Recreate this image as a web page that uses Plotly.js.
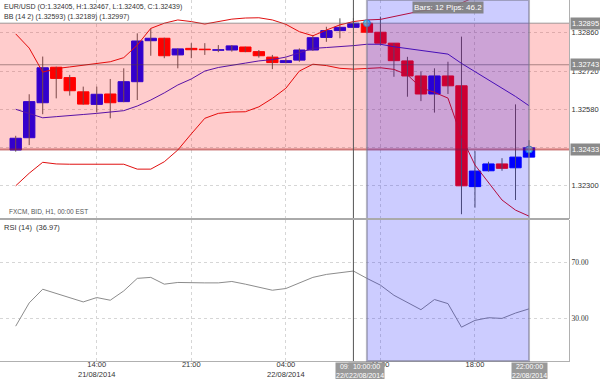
<!DOCTYPE html>
<html><head><meta charset="utf-8">
<script src="https://cdn.plot.ly/plotly-3.0.1.min.js"></script>
<style>html,body{margin:0;padding:0;background:#fff;}#chart{width:600px;height:379px;}</style>
</head><body><div id="chart"></div>
<script>
const times = ['2014-08-21 08:00','2014-08-21 09:00','2014-08-21 10:00','2014-08-21 11:00','2014-08-21 12:00','2014-08-21 13:00','2014-08-21 14:00','2014-08-21 15:00','2014-08-21 16:00','2014-08-21 17:00','2014-08-21 18:00','2014-08-21 19:00','2014-08-21 20:00','2014-08-21 21:00','2014-08-21 22:00','2014-08-21 23:00','2014-08-22 00:00','2014-08-22 01:00','2014-08-22 02:00','2014-08-22 03:00','2014-08-22 04:00','2014-08-22 05:00','2014-08-22 06:00','2014-08-22 07:00','2014-08-22 08:00','2014-08-22 09:00','2014-08-22 10:00','2014-08-22 11:00','2014-08-22 12:00','2014-08-22 13:00','2014-08-22 14:00','2014-08-22 15:00','2014-08-22 16:00','2014-08-22 17:00','2014-08-22 18:00','2014-08-22 19:00','2014-08-22 20:00','2014-08-22 21:00','2014-08-22 22:00'];
const openP = [1.32431,1.32476,1.32604,1.32734,1.32696,1.32644,1.32598,1.32636,1.32608,1.32681,1.32831,1.32840,1.32779,1.32803,1.32800,1.32796,1.32797,1.32808,1.32791,1.32771,1.32751,1.32760,1.32797,1.32843,1.32868,1.32880,1.32895,1.32862,1.32822,1.32757,1.32702,1.32636,1.32702,1.32666,1.32297,1.32355,1.32380,1.32366,1.32405];
const highP = [1.32483,1.32635,1.32773,1.32736,1.32706,1.32663,1.32663,1.32691,1.32730,1.32858,1.32876,1.32842,1.32803,1.32822,1.32822,1.32815,1.32815,1.32809,1.32797,1.32779,1.32767,1.32803,1.32852,1.32882,1.32913,1.32914,1.32905,1.32919,1.32822,1.32772,1.32718,1.32730,1.32754,1.32846,1.32427,1.32388,1.32401,1.32598,1.32467];
const lowP = [1.32425,1.32449,1.32562,1.32620,1.32630,1.32597,1.32568,1.32547,1.32606,1.32614,1.32776,1.32767,1.32730,1.32767,1.32779,1.32789,1.32791,1.32789,1.32769,1.32727,1.32748,1.32754,1.32794,1.32827,1.32840,1.32879,1.32858,1.32813,1.32699,1.32626,1.32610,1.32568,1.32636,1.32196,1.32220,1.32352,1.32355,1.32248,1.32405];
const closeP = [1.32474,1.32608,1.32732,1.32693,1.32648,1.32599,1.32635,1.32604,1.32681,1.32830,1.32840,1.32776,1.32801,1.32798,1.32798,1.32798,1.32812,1.32791,1.32776,1.32751,1.32758,1.32797,1.32842,1.32868,1.32880,1.32895,1.32862,1.32822,1.32758,1.32702,1.32636,1.32702,1.32666,1.32300,1.32354,1.32380,1.32364,1.32405,1.32439];
const bbUpper = [1.32856,1.32804,1.32716,1.32729,1.32735,1.32742,1.32748,1.32754,1.32769,1.32815,1.32876,1.32895,1.32907,1.32901,1.32892,1.32901,1.32910,1.32914,1.32915,1.32907,1.32891,1.32864,1.32849,1.32870,1.32889,1.32901,1.32907,1.32909,1.32919,1.32929,1.32940,1.32945,1.32947,1.32969,1.32991,1.32995,1.32997,1.32997,1.32997];
const bbMid = [1.32580,1.32565,1.32549,1.32553,1.32556,1.32561,1.32565,1.32570,1.32575,1.32592,1.32614,1.32640,1.32669,1.32691,1.32720,1.32733,1.32742,1.32749,1.32757,1.32762,1.32771,1.32786,1.32803,1.32806,1.32809,1.32813,1.32818,1.32818,1.32809,1.32802,1.32797,1.32790,1.32782,1.32748,1.32718,1.32687,1.32657,1.32627,1.32593];
const bbLower = [1.32300,1.32346,1.32386,1.32380,1.32379,1.32379,1.32379,1.32379,1.32379,1.32361,1.32361,1.32388,1.32431,1.32490,1.32547,1.32565,1.32570,1.32571,1.32589,1.32620,1.32657,1.32720,1.32745,1.32740,1.32730,1.32727,1.32730,1.32732,1.32726,1.32706,1.32659,1.32642,1.32621,1.32479,1.32376,1.32314,1.32248,1.32211,1.32189];
const rsi = [24.7,41.2,50.9,47.8,45.0,41.9,45.0,43.1,49.7,58.6,59.3,54.5,55.7,55.4,55.4,55.4,56.4,54.5,52.6,50.2,51.4,55.4,59.3,61.4,62.4,63.8,58.6,53.8,46.6,41.4,36.4,43.6,40.7,24.0,28.8,30.7,30.2,34.0,36.97];

const priceTicks = [1.32300,1.32440,1.32580,1.32720,1.32860];
const rsiTicks = [30,70];
const xTickVals = ['2014-08-21 14:00','2014-08-21 21:00','2014-08-22 04:00','2014-08-22 11:00','2014-08-22 18:00'];
const xTickText = ['14:00<br>21/08/2014','21:00','04:00<br>22/08/2014','11:00','18:00'];
const measureStart = '2014-08-22 10:00', measureEnd = '2014-08-22 22:00';
const measureLevels = [1.32895, 1.32433];
const midLevel = 1.32743;
const crossTime = '2014-08-22 09:00';
const bottomTags = [['2014-08-22 09:00','09:00:00'],['2014-08-22 10:00','10:00:00'],['2014-08-22 22:00','22:00:00']];

const n = times.length;
const wx = [], wy = [];
for (let i = 0; i < n; i++) { wx.push(times[i], times[i], null); wy.push(highP[i], lowP[i], null); }
const bodyBase = openP.map((o,i)=>Math.min(o, closeP[i]));
const bodyH = openP.map((o,i)=>Math.abs(closeP[i]-o));
const bodyCol = openP.map((o,i)=> closeP[i] >= o ? '#0000ff' : '#ff0000');

const traces = [
  {type:'scatter', mode:'lines', x:wx, y:wy, xaxis:'x', yaxis:'y', line:{color:'#5a5a5a', width:1}, hoverinfo:'skip', connectgaps:false},
  {type:'bar', x:times, y:bodyH, base:bodyBase, xaxis:'x', yaxis:'y', width:0.84*3600000,
   marker:{color:bodyCol, line:{color:bodyCol, width:1}}, hoverinfo:'skip'},
  {type:'scatter', mode:'lines', x:times, y:bbUpper, line:{color:'#e01010', width:1}, xaxis:'x', yaxis:'y', hoverinfo:'skip'},
  {type:'scatter', mode:'lines', x:times, y:bbLower, line:{color:'#e01010', width:1}, xaxis:'x', yaxis:'y', hoverinfo:'skip'},
  {type:'scatter', mode:'lines', x:times, y:bbMid, line:{color:'#3018d0', width:1}, xaxis:'x', yaxis:'y', hoverinfo:'skip'},
  {type:'scatter', mode:'markers', x:[measureStart, measureEnd], y:measureLevels, xaxis:'x', yaxis:'y',
   marker:{size:7, color:'#60d0ff', line:{color:'#2a90d0', width:1}}, hoverinfo:'skip'},
  {type:'scatter', mode:'lines', x:times, y:rsi, xaxis:'x', yaxis:'y2', line:{color:'#8c8c8c', width:1}, hoverinfo:'skip'}
];

const mainBottom = 1 - 219/361;
const rsiTop = 141/361;
const shapes = [
  {type:'rect', layer:'above', xref:'paper', x0:0, x1:1, yref:'y', y0:measureLevels[1], y1:measureLevels[0], fillcolor:'rgba(255,0,0,0.2)', line:{width:0}},
  {type:'line', layer:'above', xref:'paper', x0:0, x1:1, yref:'y', y0:measureLevels[0], y1:measureLevels[0], line:{color:'rgba(110,110,110,0.45)', width:1.5}},
  {type:'line', layer:'above', xref:'paper', x0:0, x1:1, yref:'y', y0:measureLevels[1], y1:measureLevels[1], line:{color:'rgba(170,30,30,0.55)', width:2}},
  {type:'line', layer:'above', xref:'paper', x0:0, x1:1, yref:'y', y0:midLevel, y1:midLevel, line:{color:'rgba(90,60,60,0.5)', width:1}},
  {type:'rect', layer:'above', xref:'x', x0:measureStart, x1:measureEnd, yref:'paper', y0:0, y1:1, fillcolor:'rgba(0,0,255,0.2)', line:{color:'rgba(120,120,140,0.55)', width:2}},
  {type:'line', layer:'above', xref:'x', x0:crossTime, x1:crossTime, yref:'paper', y0:0, y1:1, line:{color:'#555', width:1}},
  {type:'line', layer:'above', xref:'paper', x0:0, x1:1, yref:'paper', y0:mainBottom, y1:mainBottom, line:{color:'#aaa', width:2}}
];

const pips = ((measureLevels[0]-measureLevels[1])*10000).toFixed(1);
const nBars = times.indexOf(measureEnd) - times.indexOf(measureStart);
const L = n-1;
const annotations = [
  {xref:'paper', yref:'paper', x:0.004, y:1, xanchor:'left', yanchor:'top', yshift:-1, showarrow:false,
   text:`EUR/USD (O:${openP[L].toFixed(5)}, H:${highP[L].toFixed(5)}, L:${lowP[L].toFixed(5)}, C:${closeP[L].toFixed(5)})`, font:{size:7, color:'#333'}},
  {xref:'paper', yref:'paper', x:0.004, y:1, xanchor:'left', yanchor:'top', yshift:-11, showarrow:false,
   text:`BB (14 2) (${bbMid[L].toFixed(5)}) (${bbLower[L].toFixed(5)}) (${bbUpper[L].toFixed(5)})`, font:{size:7, color:'#333'}},
  {xref:'paper', yref:'paper', x:0.013, y:mainBottom, xanchor:'left', yanchor:'bottom', yshift:2, showarrow:false,
   text:'FXCM, BID, H1, 00:00 EST', font:{size:6.5, color:'#555'}},
  {xref:'paper', yref:'paper', x:0.003, y:rsiTop, xanchor:'left', yanchor:'top', yshift:-1, showarrow:false,
   text:`RSI (14)  (${rsi[L].toFixed(2)})`, font:{size:7.5, color:'#333'}},
  {xref:'x', yref:'paper', x:'2014-08-22 16:00', y:1, xanchor:'center', yanchor:'top', yshift:-1, showarrow:false,
   text:`Bars: ${nBars} Pips: ${pips}`, bgcolor:'rgba(125,125,125,0.9)', borderpad:1, font:{size:8, color:'#fff'}}
];
measureLevels.concat([midLevel]).forEach(v => annotations.push({
  xref:'paper', yref:'y', x:1, y:v, xanchor:'left', yanchor:'middle', xshift:1, showarrow:false,
  text:v.toFixed(5), bgcolor:'#8a8a8a', borderpad:1, font:{size:7.5, color:'#fff'}}));
bottomTags.forEach(t => annotations.push({
  xref:'x', yref:'paper', x:t[0], y:0, xanchor:'center', yanchor:'top', yshift:-1, showarrow:false,
  text:t[1]+'<br>22/08/2014', bgcolor:'#999', borderpad:0, font:{size:7, color:'#fff'}}));

const layout = {
  width:600, height:379,
  margin:{l:0, r:31, t:0, b:18},
  paper_bgcolor:'#fff', plot_bgcolor:'#fff',
  showlegend:false, barmode:'overlay', hovermode:false,
  font:{family:'Liberation Sans, Arial, sans-serif', size:8, color:'#333'},
  xaxis:{type:'date', range:['2014-08-21 06:50:17','2014-08-23 00:57:36'], anchor:'y2',
    tickmode:'array', tickvals:xTickVals, ticktext:xTickText, ticks:'', ticklabelstandoff:-4,
    showgrid:true, gridcolor:'#d6d6d6', griddash:'dot', gridwidth:1,
    showline:true, linecolor:'#b0b0b0', linewidth:1, zeroline:false, tickfont:{size:7.5, color:'#333'}},
  yaxis:{domain:[mainBottom,1], range:[1.321785,1.32980], side:'right', anchor:'x',
    tickmode:'array', tickvals:priceTicks, ticktext:priceTicks.map(v=>v.toFixed(5)), ticks:'',
    showgrid:true, gridcolor:'#d6d6d6', griddash:'dot', showline:true, linecolor:'#b0b0b0', linewidth:1,
    zeroline:false, tickfont:{size:7.5, color:'#333'}},
  yaxis2:{domain:[0,rsiTop], range:[0,100], side:'right', anchor:'x',
    tickmode:'array', tickvals:rsiTicks, ticktext:rsiTicks.map(v=>v.toFixed(2)), ticks:'',
    showgrid:true, gridcolor:'#d6d6d6', griddash:'dot', showline:true, linecolor:'#b0b0b0', linewidth:1,
    zeroline:false, tickfont:{family:'Liberation Serif, Times New Roman, serif', size:7.5, color:'#333'}},
  shapes:shapes, annotations:annotations
};
Plotly.newPlot('chart', traces, layout, {displayModeBar:false, staticPlot:true});
</script></body></html>
